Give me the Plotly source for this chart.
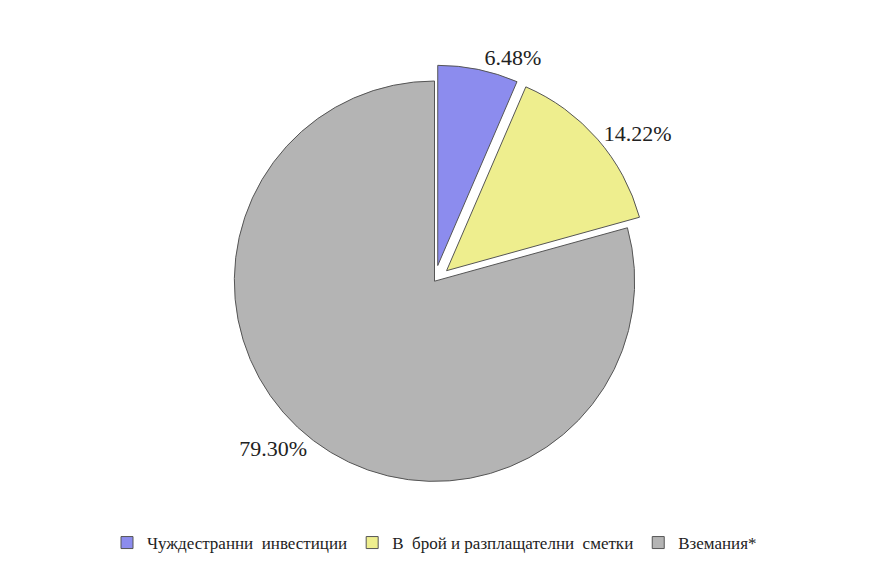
import plotly.graph_objects as go

labels = ["Чуждестранни  инвестиции", "В  брой и разплащателни  сметки", "Вземания*"]
values = [6.48, 14.22, 79.30]
colors = ["#8C8CEE", "#EEEE8E", "#B4B4B4"]
pulls = [0.08, 0.08, 0.0]

SERIF = "Liberation Serif, serif"

fig = go.Figure(go.Pie(
    labels=labels,
    values=values,
    sort=False,
    direction="clockwise",
    rotation=0,
    pull=pulls,
    marker=dict(colors=colors, line=dict(color="#555555", width=1)),
    texttemplate="%{percent:.2%}",
    textposition="outside",
    textfont=dict(family=SERIF, size=22, color="#222222"),
    domain=dict(x=[0.05, 0.95], y=[0.06, 1.0]),
    hoverinfo="label+percent",
))

fig.update_layout(
    width=890, height=562,
    paper_bgcolor="white",
    plot_bgcolor="white",
    margin=dict(l=8, r=5, t=20, b=45),
    font=dict(family=SERIF, size=17, color="#222222"),
    legend=dict(orientation="h", x=0.5, xanchor="center", y=0.0, yanchor="top",
                font=dict(family=SERIF, size=17),
                itemwidth=30, traceorder="normal"),
)

fig.write_html("out.html")
